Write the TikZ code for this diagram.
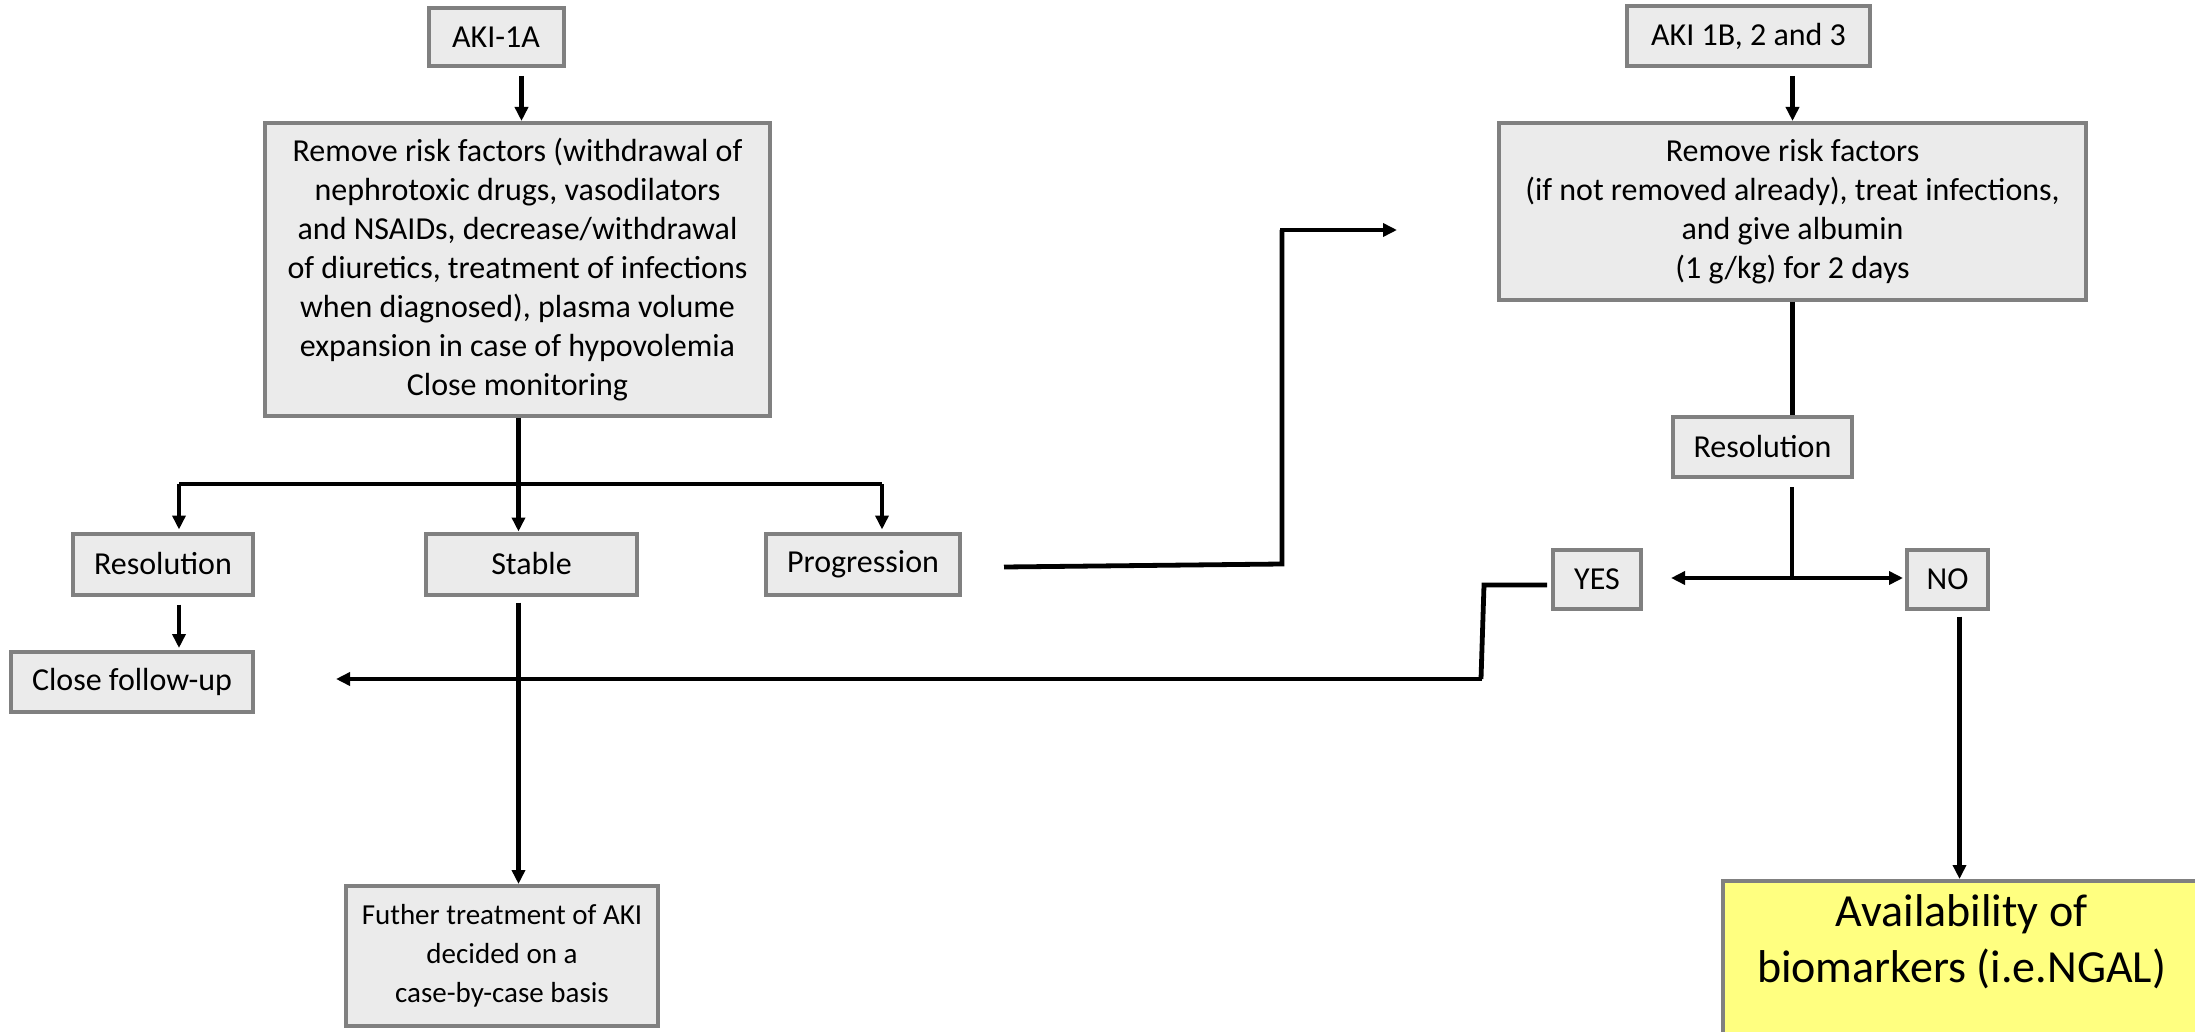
\documentclass[tikz,border=0pt]{standalone}
\usepackage{fontspec}
\setmainfont{Carlito}
\usetikzlibrary{arrows.meta,calc}
\definecolor{boxfill}{HTML}{EBEBEB}
\definecolor{boxline}{HTML}{808080}
\definecolor{yel}{HTML}{FFFF80}
\begin{document}
\begin{tikzpicture}[x=0.5pt,y=-0.5pt,
  box/.style={draw=boxline, fill=boxfill, line width=2pt, inner sep=0pt, align=center,
    font=\fontsize{16}{19.5}\selectfont},
  ybox/.style={draw=boxline, fill=yel, line width=2pt, inner sep=0pt, align=center,
    font=\fontsize{23}{28}\selectfont},
  arr/.style={line width=2.4pt, -{Triangle[length=7pt,width=6.5pt]}},
  ln/.style={line width=2.4pt}]
\clip (0,0) rectangle (2195,1032);
\fill[white] (0,0) rectangle (2195,1032);

% left branch
\node[box, minimum width=67.5pt, minimum height=29pt] (aki1a) at (496,37) {AKI-1A};
\node[box, minimum width=252.5pt, minimum height=146.5pt] (box1) at (517.5,269.5)
  {Remove risk factors (withdrawal of\\nephrotoxic drugs, vasodilators\\and NSAIDs, decrease/withdrawal\\of diuretics, treatment of infections\\when diagnosed), plasma volume\\expansion in case of hypovolemia\\Close monitoring};
\node[box, minimum width=90pt, minimum height=30.5pt] (res1) at (163,564) {Resolution};
\node[box, minimum width=105.5pt, minimum height=30.5pt] (stable) at (531.5,564) {Stable};
\node[box, minimum width=97pt, minimum height=30.5pt] (prog) at (863,564) {Progression};
\node[box, minimum width=121pt, minimum height=30pt] (close) at (132,682) {Close follow-up};
\node[box, minimum width=156pt, minimum height=70pt, font=\fontsize{14.5}{19.5}\selectfont] (further) at (502,956)
  {Futher treatment of AKI\\decided on a\\case-by-case basis};

% right branch
\node[box, minimum width=121.5pt, minimum height=30pt] (aki1b) at (1748.5,36) {AKI 1B, 2 and 3};
\node[box, minimum width=293.5pt, minimum height=88.5pt] (box2) at (1792.5,211.5)
  {Remove risk factors\\(if not removed already), treat infections,\\and give albumin\\(1 g/kg) for 2 days};
\node[box, minimum width=89.5pt, minimum height=30pt] (res2) at (1762.5,447) {Resolution};
\node[box, minimum width=44pt, minimum height=29.5pt] (yes) at (1597,579) {YES};
\node[box, minimum width=40.5pt, minimum height=29.5pt] (no) at (1947.5,579) {NO};
\node[ybox, minimum width=238.5pt, minimum height=86pt, anchor=north] (avail) at (1961.5,879)
  {Availability of\\biomarkers (i.e.NGAL)\\\mbox{}};

% coordinates
\coordinate (bL) at (179,484);
\coordinate (bR) at (882,484);
\coordinate (pA) at (1282,566);
\coordinate (pB) at (1397,230);
\coordinate (split) at (1792,578);
\coordinate (yA) at (1484,585);
\coordinate (yB) at (1481,679);
\coordinate (cEnd) at (336,679);

% connectors left
\draw[arr] ($(aki1a.south -| box1.north)+(4,8)$) -- ($(box1.north)+(4,0)$);
\draw[arr] ($(box1.south)+(1,0)$) -- ($(box1.south |- stable.north)+(1,0)$);
\draw[ln] (bL) -- (bR);
\draw[arr] (bL) -- ($(bL |- res1.north)+(0,-2)$);
\draw[arr] (bR) -- ($(bR |- prog.north)+(0,-2)$);
\draw[arr] ($(res1.south -| bL)+(0,8)$) -- ($(close.north -| bL)+(0,-2)$);
\draw[arr] ($(stable.south)+(-13,6)$) -- ($(further.north -| stable.south)+(-13,0)$);
\draw[ln, line join=miter] ($(prog.east)+(42,3)$) -- (pA |- prog.east) -- (pA |- pB);
\draw[arr] ($(pA |- pB)+(-2,0)$) -- (pB);

% connectors right
\draw[arr] ($(aki1b.south -| box2.north)+(0,8)$) -- (box2.north);
\draw[ln] (box2.south) -- (box2.south |- res2.north);
\draw[ln] ($(res2.south -| split)+(0,8)$) -- (split);
\draw[arr] (split) -- ($(yes.east |- split)+(28,0)$);
\draw[arr] (split) -- ($(no.west |- split)+(-2,0)$);
\draw[ln, line join=miter] ($(yes.west |- yA)+(-4,0)$) -- (yA) -- (yB);
\draw[arr] ($(yB)+(1,0)$) -- (cEnd);
\draw[arr] ($(no.south)+(12,6)$) -- ($(avail.north -| no.south)+(12,0)$);
\end{tikzpicture}
\end{document}
